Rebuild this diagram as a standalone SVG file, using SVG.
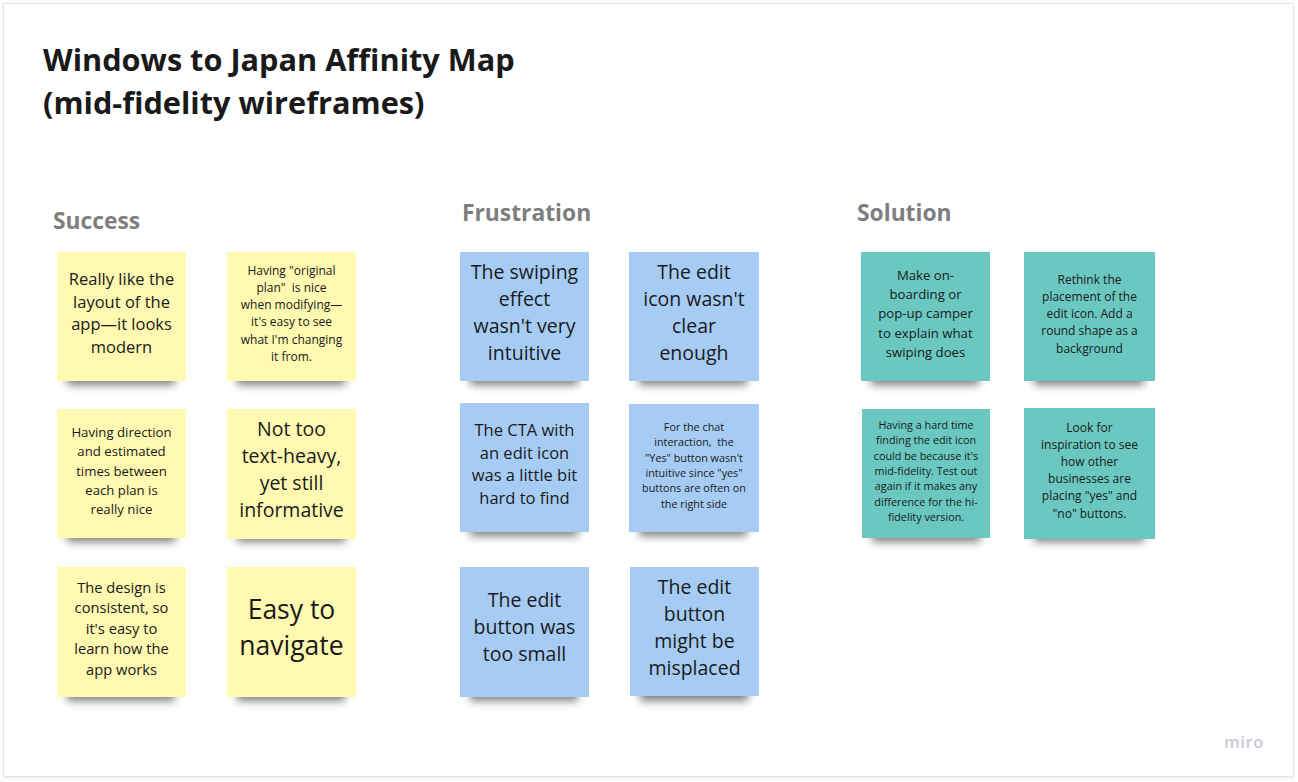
<svg xmlns="http://www.w3.org/2000/svg" width="1298" height="782" viewBox="0 0 1298 782">
<defs>
<filter id="shadow" x="-20%" y="-100%" width="140%" height="300%"><feGaussianBlur stdDeviation="4"/></filter>
<filter id="frameShadow" x="-5%" y="-5%" width="110%" height="110%"><feGaussianBlur stdDeviation="1.5"/></filter>
<style>
.frame{fill:#ffffff;stroke:#e4e4e4;stroke-width:1}
.title{font-family:"Open Sans","Liberation Sans",sans-serif;font-weight:700;font-size:30.7px;fill:#1a1a1a}
.hdr{font-family:"Open Sans","Liberation Sans",sans-serif;font-weight:700;font-size:22.8px;fill:#7e7e7e}
.sh{fill:#000;opacity:0.5;filter:url(#shadow)}
.yel{fill:#fff9b1}
.blu{fill:#a6ccf5}
.tea{fill:#6ac8c1}
.t{font-family:"Open Sans","Liberation Sans",sans-serif;fill:#1a1a1a;text-anchor:middle;white-space:pre}
.miro{font-family:"Open Sans","Liberation Sans",sans-serif;font-weight:600;font-size:16.5px;fill:#cacad2;letter-spacing:0.6px}
</style>
</defs>
<rect x="0" y="0" width="1298" height="782" fill="#ffffff"/>
<rect x="3.5" y="4.5" width="1290" height="774" fill="#000" opacity="0.06" filter="url(#frameShadow)"/>
<rect class="frame" x="3.5" y="3.5" width="1290" height="773"/>

<g id="title">
<text class="title" x="43" y="70.5">Windows to Japan Affinity Map</text>
<text class="title" x="43" y="113.5">(mid-fidelity wireframes)</text>
</g>
<g id="header-success"><text class="hdr" x="53" y="229">Success</text></g>
<g id="header-frustration"><text class="hdr" x="462" y="221">Frustration</text></g>
<g id="header-solution"><text class="hdr" x="857" y="221">Solution</text></g>

<g id="s1">
<rect class="sh" x="67" y="370" width="108" height="15"/>
<rect class="yel" x="57" y="252" width="129" height="129"/>
<text class="t" font-size="16.5" x="121.5"><tspan x="121.5" y="285">Really like the</tspan><tspan x="121.5" y="307.5">layout of the</tspan><tspan x="121.5" y="330">app—it looks</tspan><tspan x="121.5" y="352.5">modern</tspan></text>
</g>
<g id="s2">
<rect class="sh" x="237" y="370" width="108" height="15"/>
<rect class="yel" x="227" y="252" width="129" height="129"/>
<text class="t" font-size="12" x="291.5" xml:space="preserve"><tspan x="291.5" y="274.5">Having "original</tspan><tspan x="291.5" y="291.8">plan"  is nice</tspan><tspan x="291.5" y="309">when modifying—</tspan><tspan x="291.5" y="326.4">it's easy to see</tspan><tspan x="291.5" y="343.7">what I'm changing</tspan><tspan x="291.5" y="361">it from.</tspan></text>
</g>
<g id="s3">
<rect class="sh" x="67" y="527" width="108" height="15"/>
<rect class="yel" x="57" y="409" width="129" height="129"/>
<text class="t" font-size="13.2" x="121.5"><tspan x="121.5" y="437">Having direction</tspan><tspan x="121.5" y="456.2">and estimated</tspan><tspan x="121.5" y="475.5">times between</tspan><tspan x="121.5" y="494.7">each plan is</tspan><tspan x="121.5" y="514">really nice</tspan></text>
</g>
<g id="s4">
<rect class="sh" x="237" y="527" width="108" height="15"/>
<rect class="yel" x="227" y="409" width="129" height="130"/>
<text class="t" font-size="19.5" x="291.5"><tspan x="291.5" y="436">Not too</tspan><tspan x="291.5" y="463">text-heavy,</tspan><tspan x="291.5" y="490">yet still</tspan><tspan x="291.5" y="517">informative</tspan></text>
</g>
<g id="s5">
<rect class="sh" x="67" y="686" width="108" height="15"/>
<rect class="yel" x="57" y="567" width="129" height="130"/>
<text class="t" font-size="14.7" x="121.5"><tspan x="121.5" y="592.5">The design is</tspan><tspan x="121.5" y="613">consistent, so</tspan><tspan x="121.5" y="633.5">it's easy to</tspan><tspan x="121.5" y="654">learn how the</tspan><tspan x="121.5" y="674.5">app works</tspan></text>
</g>
<g id="s6">
<rect class="sh" x="237" y="686" width="108" height="15"/>
<rect class="yel" x="227" y="567" width="129" height="130"/>
<text class="t" font-size="26.5" x="291.5"><tspan x="291.5" y="618.5">Easy to</tspan><tspan x="291.5" y="654.5">navigate</tspan></text>
</g>

<g id="f1">
<rect class="sh" x="470" y="370" width="108" height="15"/>
<rect class="blu" x="460" y="252" width="129" height="129"/>
<text class="t" font-size="19.5" x="524.5"><tspan x="524.5" y="279">The swiping</tspan><tspan x="524.5" y="306">effect</tspan><tspan x="524.5" y="333">wasn't very</tspan><tspan x="524.5" y="360">intuitive</tspan></text>
</g>
<g id="f2">
<rect class="sh" x="639" y="370" width="108" height="15"/>
<rect class="blu" x="629" y="252" width="130" height="129"/>
<text class="t" font-size="19.5" x="694"><tspan x="694" y="279">The edit</tspan><tspan x="694" y="306">icon wasn't</tspan><tspan x="694" y="333">clear</tspan><tspan x="694" y="360">enough</tspan></text>
</g>
<g id="f3">
<rect class="sh" x="470" y="521" width="108" height="15"/>
<rect class="blu" x="460" y="403" width="129" height="129"/>
<text class="t" font-size="16.5" x="524.5"><tspan x="524.5" y="436">The CTA with</tspan><tspan x="524.5" y="458.5">an edit icon</tspan><tspan x="524.5" y="481">was a little bit</tspan><tspan x="524.5" y="503.5">hard to find</tspan></text>
</g>
<g id="f4">
<rect class="sh" x="639" y="521" width="108" height="15"/>
<rect class="blu" x="629" y="404" width="130" height="128"/>
<text class="t" font-size="10.8" x="694" xml:space="preserve"><tspan x="694" y="431">For the chat</tspan><tspan x="694" y="446.3">interaction,  the</tspan><tspan x="694" y="461.6">"Yes" button wasn't</tspan><tspan x="694" y="476.9">intuitive since "yes"</tspan><tspan x="694" y="492.2">buttons are often on</tspan><tspan x="694" y="507.5">the right side</tspan></text>
</g>
<g id="f5">
<rect class="sh" x="470" y="686" width="108" height="15"/>
<rect class="blu" x="460" y="567" width="129" height="130"/>
<text class="t" font-size="19.5" x="524.5"><tspan x="524.5" y="607">The edit</tspan><tspan x="524.5" y="634">button was</tspan><tspan x="524.5" y="661">too small</tspan></text>
</g>
<g id="f6">
<rect class="sh" x="640" y="686" width="108" height="15"/>
<rect class="blu" x="630" y="567" width="129" height="129"/>
<text class="t" font-size="19.5" x="694.5"><tspan x="694.5" y="594">The edit</tspan><tspan x="694.5" y="621">button</tspan><tspan x="694.5" y="648">might be</tspan><tspan x="694.5" y="675">misplaced</tspan></text>
</g>

<g id="o1">
<rect class="sh" x="871" y="370" width="108" height="15"/>
<rect class="tea" x="861" y="252" width="129" height="129"/>
<text class="t" font-size="13.2" x="925.5"><tspan x="925.5" y="280">Make on-</tspan><tspan x="925.5" y="299.2">boarding or</tspan><tspan x="925.5" y="318.4">pop-up camper</tspan><tspan x="925.5" y="337.6">to explain what</tspan><tspan x="925.5" y="356.8">swiping does</tspan></text>
</g>
<g id="o2">
<rect class="sh" x="1034" y="370" width="110" height="15"/>
<rect class="tea" x="1024" y="252" width="131" height="129"/>
<text class="t" font-size="12" x="1089.5"><tspan x="1089.5" y="283.5">Rethink the</tspan><tspan x="1089.5" y="300.8">placement of the</tspan><tspan x="1089.5" y="318">edit icon. Add a</tspan><tspan x="1089.5" y="335.3">round shape as a</tspan><tspan x="1089.5" y="352.6">background</tspan></text>
</g>
<g id="o3">
<rect class="sh" x="872" y="527" width="108" height="15"/>
<rect class="tea" x="862" y="409" width="128" height="129"/>
<text class="t" font-size="10.8" x="926"><tspan x="926" y="429">Having a hard time</tspan><tspan x="926" y="444.3">finding the edit icon</tspan><tspan x="926" y="459.6">could be because it's</tspan><tspan x="926" y="474.9">mid-fidelity. Test out</tspan><tspan x="926" y="490.2">again if it makes any</tspan><tspan x="926" y="505.5">difference for the hi-</tspan><tspan x="926" y="520.8">fidelity version.</tspan></text>
</g>
<g id="o4">
<rect class="sh" x="1034" y="527" width="110" height="15"/>
<rect class="tea" x="1024" y="408" width="131" height="131"/>
<text class="t" font-size="12" x="1089.5"><tspan x="1089.5" y="431.5">Look for</tspan><tspan x="1089.5" y="448.7">inspiration to see</tspan><tspan x="1089.5" y="465.9">how other</tspan><tspan x="1089.5" y="483.1">businesses are</tspan><tspan x="1089.5" y="500.3">placing "yes" and</tspan><tspan x="1089.5" y="517.5">"no" buttons.</tspan></text>
</g>

<g id="connectors"></g>
<g id="miro-logo"><text class="miro" x="1224" y="748">miro</text></g>
</svg>
